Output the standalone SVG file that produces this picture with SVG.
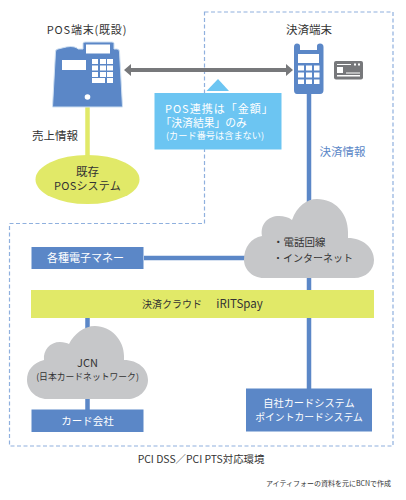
<svg xmlns="http://www.w3.org/2000/svg" width="406" height="500" viewBox="0 0 406 500">
<style>
text{font-family:"Noto Sans CJK JP","Liberation Sans",sans-serif;text-anchor:middle;fill:#333}
.w{fill:#fff}
.s{text-anchor:start}
.b{fill:#5b87c7}
.g{fill:#c6c7c9}
.y{fill:#e1e968}
.k{fill:#fff}
.l{stroke-width:4.5;fill:none}
</style>
<path id="zone" d="M204.5 12H393V446H9.500V223.500H204.500Z" fill="none" stroke="#8fb0de" stroke-width="1.200" stroke-dasharray="4 2.500"/>
<g id="connectors">
<path class="l" stroke="#e1e968" d="M87.500 105V158"/>
<path class="l" stroke="#5b87c7" d="M309 90V210M309 275V390M144 258H255M87.500 316V332M87.500 398V411"/>
<path d="M131 68H286V72H131V76L124 70L131 64Z M286 64L293 70L286 76Z" fill="#77787b"/>
</g>
<g id="pos-terminal">
<text x="87" y="34" font-size="11" letter-spacing=".8">POS端末(既設)</text>
<path class="b" stroke="#cfe0f2" stroke-width="1" d="M83 49V43.500Q83 42 85 42H112Q114 42 114 43.500V49H117Q119.500 49 119.500 52L122.500 107H52.500L55.500 52Q55.500 49 58 49L62 48Q72 45 77 48L78 49Z"/>
<rect class="k" x="86" y="44.500" width="24" height="9"/>
<rect class="k" x="62" y="60" width="24" height="10"/>
<g class="k"><rect x="92" y="59" width="6" height="5"/><rect x="100" y="59" width="6" height="5"/><rect x="107" y="59" width="6" height="5"/><rect x="92" y="65.500" width="6" height="5"/><rect x="100" y="65.500" width="6" height="5"/><rect x="107" y="65.500" width="6" height="5"/><rect x="92" y="72" width="6" height="5"/><rect x="100" y="72" width="6" height="5"/><rect x="107" y="72" width="6" height="5"/><rect x="92" y="78" width="13" height="5"/><rect x="107" y="78" width="6" height="5"/></g>
<circle class="k" cx="87.500" cy="97" r="2.800"/>
</g>
<text id="sales-label" x="55" y="140" font-size="11.500">売上情報</text>
<g id="pos-system">
<ellipse class="y" cx="87.500" cy="179.500" rx="52" ry="24.500"/>
<text x="87.500" y="176" font-size="11.500">既存</text>
<text x="87.500" y="190" font-size="11" letter-spacing=".2">POSシステム</text>
</g>
<g id="payment-terminal">
<text x="309" y="34" font-size="11.500">決済端末</text>
<path class="b" d="M294 47Q294 43.500 297 43.500Q300 43.500 300 46V50H317V46Q317 43.500 320 43.500Q323.500 43.500 323.500 47V90Q323.500 94 320 94H297Q294 94 294 90Z"/>
<rect class="k" x="298" y="54" width="21" height="9"/>
<g class="k"><rect x="298" y="65.500" width="6" height="5"/><rect x="306" y="65.500" width="6" height="5"/><rect x="314" y="65.500" width="5.500" height="5"/><rect x="298" y="72.500" width="6" height="5"/><rect x="306" y="72.500" width="6" height="5"/><rect x="314" y="72.500" width="5.500" height="5"/><rect x="298" y="79.500" width="6" height="4.500"/><rect x="306" y="79.500" width="6" height="4.500"/><rect x="314" y="79.500" width="5.500" height="4.500"/></g>
</g>
<g id="card-icon">
<rect x="334" y="61" width="29" height="18.500" rx="2" fill="#77787b"/>
<rect class="k" x="337" y="67" width="6" height="6"/>
<rect class="k" x="337" y="64" width="14" height="1"/>
<rect class="k" x="354" y="63.500" width="2" height="2"/><rect class="k" x="358" y="63.500" width="2" height="2"/>
<rect class="k" x="346" y="72.500" width="14" height="1"/>
<rect class="k" x="337" y="75" width="23" height="1.500"/>
</g>
<text id="payment-label" x="342.500" y="156" font-size="11.500" style="fill:#5b87c7">決済情報</text>
<g id="pos-note">
<path d="M218 79L229 91H206.500Z" fill="#6cc5f2"/>
<rect x="154.500" y="93" width="127" height="56.500" fill="#6cc5f2"/>
<text class="s" x="165" y="113" font-size="11" letter-spacing="1" style="fill:#fff">POS連携は「金額」</text>
<text class="s" x="160.500" y="126.500" font-size="10.800" style="fill:#fff">「決済結果」のみ</text>
<text class="s" x="166" y="138.500" font-size="9.200" style="fill:#fff">(カード番号は含まない)</text>
</g>
<g id="network-cloud">
<path class="g" d="M264 278C251 278 244 268 244 260C244 247 251 238 262 236C260 224 268 216 279 216C284 216 288 217 292 220C297 206 307 199 317 199C335 199 348 213 348 232V238C363 238 374 248 374 260C374 270 366 278 354 278Z"/>
<text class="s" x="273" y="246" font-size="10.500">・電話回線</text>
<text class="s" x="273" y="262" font-size="10">・インターネット</text>
</g>
<g id="emoney">
<rect class="b" x="31.500" y="247" width="112" height="22"/>
<text x="85.500" y="262" font-size="11" style="fill:#fff">各種電子マネー</text>
</g>
<g id="cloud-platform">
<rect class="y" x="31" y="290" width="343" height="28"/>
<text x="172" y="308" font-size="10">決済クラウド</text>
<text x="239.500" y="308" font-size="11.500">iRITSpay</text>
</g>
<g id="jcn-cloud">
<path class="g" d="M47 399C36 399 27 390 27 380C27 370 33 363 44 360C43 350 50 342 60 342C64 342 67 343 69 344C74 334 84 326 95 326C111 326 124 340 124 356V360C138 360 148 369 148 380C148 391 138 399 128 399Z"/>
<text x="87.500" y="367" font-size="11">JCN</text>
<text x="87.500" y="380" font-size="8.800">(日本カードネットワーク)</text>
</g>
<g id="card-company">
<rect class="b" x="31.500" y="409.500" width="112" height="22.500"/>
<text x="87.500" y="425" font-size="10.500" style="fill:#fff">カード会社</text>
</g>
<g id="own-system">
<rect class="b" x="246" y="388.500" width="126" height="43"/>
<text x="309" y="407" font-size="10.200" style="fill:#fff">自社カードシステム</text>
<text x="309" y="421" font-size="9.800" style="fill:#fff">ポイントカードシステム</text>
</g>
<text id="pci" x="201" y="463" font-size="10.400">PCI DSS／PCI PTS対応環境</text>
<text id="source" x="328.500" y="486" font-size="7">アイティフォーの資料を元にBCNで作成</text>
</svg>
